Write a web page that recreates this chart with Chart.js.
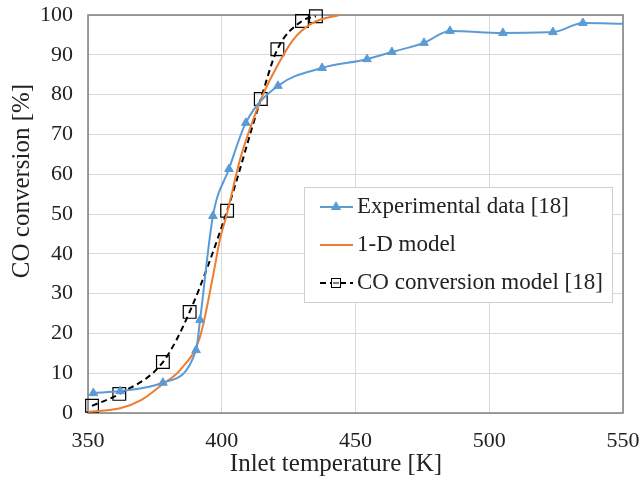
<!DOCTYPE html>
<html>
<head>
<meta charset="utf-8">
<script src="https://cdn.jsdelivr.net/npm/chart.js@4.4.0/dist/chart.umd.min.js"></script>
<style>
  body { margin: 0; background: #fff; }
</style>
</head>
<body>
<canvas id="mycanvas" width="640" height="484"></canvas>
<script>
// values
var expTemp = [352, 362, 378, 390.4, 391.9, 396.7, 402.7, 409, 421, 437.5, 454.3, 463.6, 475.6, 485.3, 505.1, 523.8, 535, 550];
var expConv = [5, 5.5, 7.6, 15.8, 23.4, 49.5, 61.3, 72.9, 82.2, 86.7, 88.9, 90.7, 93, 96, 95.5, 95.7, 98, 97.8];

var modelTemp = [350, 362, 370, 378, 384.4, 391.9, 396.9, 399.3, 402, 406.8, 411.7, 415.4, 420.6, 426.6, 434, 444];
var modelConv = [0.3, 1.2, 3.3, 7.3, 10.8, 19.2, 35, 43.5, 50.2, 63.6, 73.6, 80, 87, 93.7, 98, 100];

var coTemp = [351.5, 361.7, 378, 388, 402, 414.6, 420.8, 430, 435.2];
var coConv = [1.8, 4.8, 12.8, 25.4, 50.8, 78.9, 91.4, 98.5, 99.7];

var xTicks = [350, 400, 450, 500, 550];
var seriesNames = ["Experimental data [18]", "1-D model", "CO conversion model [18]"];
var xTitle = "Inlet temperature [K]";
var yTitle = "CO conversion [%]";

var serif = "'Liberation Serif', 'Times New Roman', serif";
var blue = "#5b9bd5", orange = "#ed7d31";
var textCol = "#222";

function pts(xs, ys) {
    var out = [];
    for (var i in xs) out.push({x: xs[i], y: ys[i]});
    return out;
}

// last experimental point only carries the line to the edge
var expRadius = expTemp.map(function(t, i) { return i == expTemp.length - 1 ? 0 : 5; });

// plot frame, axis titles and the legend box inside the plot
var framePlugin = {
    id: 'frame',
    beforeDatasetsDraw: function(chart) {
        var a = chart.chartArea, c = chart.ctx;
        c.save();
        c.strokeStyle = "#7f7f7f";
        c.lineWidth = 1.5;
        c.strokeRect(a.left, a.top, a.right - a.left, a.bottom - a.top);
        c.restore();
    },
    afterDraw: function(chart) {
        var c = chart.ctx;
        c.save();
        // axis titles (sit a bit left / up of centre like in the source)
        c.fillStyle = textCol;
        c.font = "25px " + serif;
        c.textAlign = "center";
        c.textBaseline = "middle";
        c.fillText(xTitle, 336, 464);
        c.save();
        c.translate(22, 181);
        c.rotate(-Math.PI / 2);
        c.fillText(yTitle, 0, 0);
        c.restore();
        c.textAlign = "left";

        c.fillStyle = "#fff";
        c.fillRect(304, 187, 308, 115);
        c.strokeStyle = "#d0d0d0";
        c.lineWidth = 1;
        c.strokeRect(304.5, 187.5, 308, 115);
        var rows = [207, 245, 283];
        chart.data.datasets.forEach(function(ds, i) {
            var y = rows[i];
            c.beginPath();
            c.strokeStyle = ds.borderColor;
            c.lineWidth = 2;
            c.setLineDash(ds.borderDash || []);
            c.moveTo(320, y);
            c.lineTo(353, y);
            c.stroke();
            c.setLineDash([]);
            if (ds.pointStyle == 'triangle') {
                c.fillStyle = blue;
                Chart.helpers.drawPoint(c, {pointStyle: 'triangle', radius: 4, borderWidth: 1}, 336, y);
                c.fill();
            } else if (ds.pointStyle == 'rect') {
                c.strokeStyle = "#000";
                c.lineWidth = 1;
                c.fillStyle = "#fff";
                c.fillRect(331, y - 5, 10, 10);
                c.strokeRect(331.5, y - 4.5, 9, 9);
                c.beginPath();
                c.moveTo(333, y); c.lineTo(339, y); c.stroke();
            }
            c.fillStyle = textCol;
            c.font = "23px " + serif;
            c.textBaseline = "middle";
            c.fillText(ds.label, 357, y);
        });
        c.restore();
    }
};

var ctx = document.getElementById("mycanvas");
var chart = new Chart(ctx, {
    type: 'line',
    data: {
        datasets: [{
            label: seriesNames[0],
            data: pts(expTemp, expConv),
            borderColor: blue,
            backgroundColor: blue,
            borderWidth: 2,
            pointStyle: 'triangle',
            pointRadius: expRadius,
            pointBorderWidth: 1,
            cubicInterpolationMode: 'monotone'
        }, {
            label: seriesNames[1],
            data: pts(modelTemp, modelConv),
            borderColor: orange,
            backgroundColor: orange,
            borderWidth: 2,
            pointRadius: 0,
            cubicInterpolationMode: 'monotone'
        }, {
            label: seriesNames[2],
            data: pts(coTemp, coConv),
            borderColor: "#000",
            backgroundColor: "rgba(0,0,0,0)",
            borderWidth: 2,
            borderDash: [6, 4],
            pointStyle: 'rect',
            pointRadius: 9,
            pointBorderWidth: 1.2,
            pointBorderColor: "#000",
            pointBackgroundColor: "rgba(0,0,0,0)",
            cubicInterpolationMode: 'monotone',
            clip: false
        }]
    },
    options: {
        responsive: false,
        animation: false,
        layout: { padding: { top: 15, right: 17, left: 0, bottom: 0 } },
        plugins: { legend: { display: false }, tooltip: { enabled: false } },
        scales: {
            x: {
                type: 'linear',
                min: 350, max: 550,
                afterBuildTicks: function(s) { s.ticks = xTicks.map(function(v) { return {value: v}; }); },
                afterFit: function(s) { s.height = 71; s.paddingLeft = 0; s.paddingRight = 0; },
                grid: { color: "#d9d9d9", drawTicks: false },
                border: { display: false },
                ticks: { color: textCol, font: { family: serif, size: 22 }, padding: 15, maxRotation: 0 }
            },
            y: {
                min: 0, max: 100,
                afterFit: function(s) { s.width = 88; s.paddingTop = 0; s.paddingBottom = 0; },
                grid: { color: "#d9d9d9", drawTicks: false },
                border: { display: false },
                ticks: { stepSize: 10, color: textCol, font: { family: serif, size: 22 }, padding: 15 }
            }
        }
    },
    plugins: [framePlugin]
});
</script>
</body>
</html>
